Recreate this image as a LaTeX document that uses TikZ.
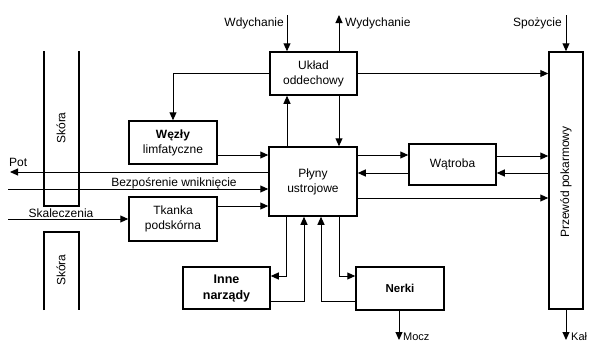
\documentclass[tikz,border=0pt]{standalone}
\usepackage{fontspec}
\setmainfont{Liberation Sans}
\usetikzlibrary{arrows.meta,calc}
\begin{document}
\begin{tikzpicture}[x=1pt,y=-1pt, font=\fontsize{12}{15}\selectfont,
 box/.style={draw, line width=1.5pt, inner sep=0pt, align=center},
 arr/.style={-{Triangle[length=8pt,width=7pt]}, line width=1pt},
 ln/.style={line width=1pt},
 skin/.style={line width=1.5pt},
 lbl/.style={inner sep=0pt}]
\useasboundingbox (0,0) rectangle (590,343);
% guides
\coordinate (y155) at (0,155);
\coordinate (y156) at (0,156);
\coordinate (y172) at (0,172);
\coordinate (y173) at (0,173);
\coordinate (y198) at (0,198);
\coordinate (y206) at (0,206);
\coordinate (y276) at (0,276);
\coordinate (y301) at (0,301);
\coordinate (x286) at (286,0);
\coordinate (x287) at (287,0);
\coordinate (x304) at (304,0);
\coordinate (x321) at (321,0);
\coordinate (x339) at (339,0);
\coordinate (x399) at (399,0);
% boxes
\node[box, minimum width=87pt, minimum height=43pt] (uk) at (313.5,73.5) {Układ\\oddechowy};
\node[box, minimum width=34pt, minimum height=257pt] (pk) at (566,180.5) {};
\node[rotate=90, lbl] (pkt) at (566,182) {Przewód pokarmowy};
\node[box, minimum width=88pt, minimum height=43pt] (wz) at (173,142.5) {\textbf{Węzły}\\limfatyczne};
\node[box, minimum width=88pt, minimum height=69pt] (pl) at (313,181.5) {Płyny\\ustrojowe};
\node[box, minimum width=88pt, minimum height=44pt] (tk) at (173,219) {Tkanka\\podskórna};
\node[box, minimum width=87pt, minimum height=41pt] (wt) at (452.5,164.5) {Wątroba};
\node[box, minimum width=87pt, minimum height=42pt, font=\fontsize{12.5}{16}\selectfont\bfseries] (in) at (226.5,288) {Inne\\narządy};
\node[box, minimum width=88pt, minimum height=43pt, font=\fontsize{11.5}{14}\selectfont\bfseries] (ne) at (400,288.5) {Nerki};
% skin
\draw[skin] (44,51) -- (44,206) -- (79,206) -- (79,51);
\draw[skin] (44,310) -- (44,232) -- (79,232) -- (79,310);
\node[rotate=90, lbl] (sk1) at (61,128) {Skóra};
\node[rotate=90, lbl] (sk2) at (61,270) {Skóra};
% free ends
\coordinate (wd) at (287,15);
\coordinate (wy) at (339,15);
\coordinate (sp) at (566,15);
\coordinate (potend) at (10,172);
\coordinate (bz) at (8,189);
\coordinate (skl) at (8,219);
\coordinate (mz) at (399,340);
\coordinate (kal) at (566,340);
% labels
\node[lbl, anchor=base east] (wdl) at (284,26) {Wdychanie};
\node[lbl, anchor=base west] (wyl) at (345,26) {Wydychanie};
\node[lbl, anchor=base east] (spl) at (562,26) {Spożycie};
\node[lbl, anchor=base west] (potl) at (9,166) {Pot};
\node[lbl, anchor=base] (bzl) at (174,186) {Bezpośrenie wniknięcie};
\node[lbl, anchor=base] (skll) at (61,217) {Skaleczenia};
\node[lbl, anchor=base west, font=\fontsize{11}{13}\selectfont] (mzl) at (403,340) {Mocz};
\node[lbl, anchor=base west, font=\fontsize{11}{13}\selectfont] (kall) at (571,340) {Kał};
% connectors
\draw[arr] (wd) -- (wd |- uk.north);
\draw[arr] (wy |- uk.north) -- (wy);
\draw[arr] (sp) -- (pk.north);
\draw[arr] (uk.west) -| (wz.north);
\draw[arr] (x287 |- pl.north) -- (x287 |- uk.south);
\draw[arr] (x339 |- uk.south) -- (x339 |- pl.north);
\draw[arr] (uk.east) -- (uk.east -| pk.west);
\draw[arr] (wz.east |- y155) -- (pl.west |- y155);
\draw[arr] (pl.west |- y172) -- (potend);
\draw[arr] (bz) -- (pl.west |- bz);
\draw[arr] (skl) -- (tk.west |- skl);
\draw[arr] (tk.east |- y206) -- (pl.west |- y206);
\draw[arr] (pl.east |- y155) -- (wt.west |- y155);
\draw[arr] (wt.west |- y173) -- (pl.east |- y173);
\draw[arr] (wt.east |- y156) -- (pk.west |- y156);
\draw[arr] (pk.west |- y173) -- (wt.east |- y173);
\draw[arr] (pl.east |- y198) -- (pk.west |- y198);
\draw[arr] (x286 |- pl.south) -- (x286 |- y276) -- (in.east |- y276);
\draw[arr] (in.east |- y301) -- (x304 |- y301) -- (x304 |- pl.south);
\draw[arr] (ne.west |- y301) -- (x321 |- y301) -- (x321 |- pl.south);
\draw[arr] (x339 |- pl.south) -- (x339 |- y276) -- (ne.west |- y276);
\draw[arr] (x399 |- ne.south) -- (mz);
\draw[arr] (pk.south) -- (kal);
\end{tikzpicture}
\end{document}
